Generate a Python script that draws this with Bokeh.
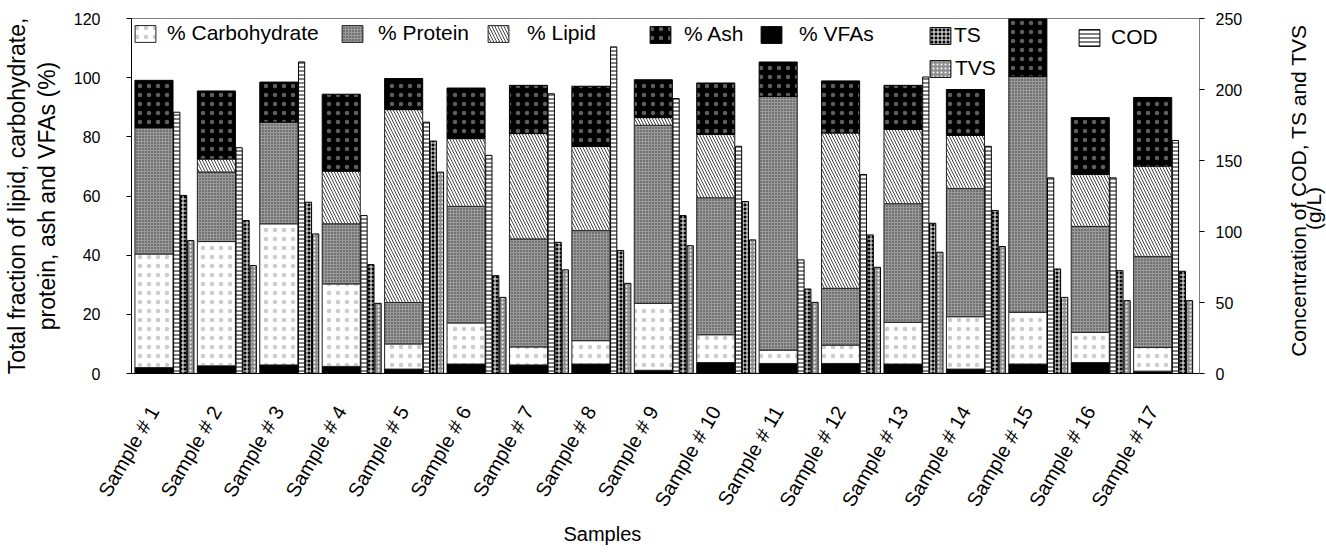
import math
from bokeh.plotting import figure
from bokeh.layouts import row
from bokeh.models import (Range1d, LinearAxis, FixedTicker, Legend, LegendItem, Title, Label,
                          ColumnDataSource)
from bokeh.embed import file_html
from bokeh.resources import INLINE

samples = [f"Sample # {i}" for i in range(1, 18)]

# Composition (%), stacked from bottom: VFAs, Carbohydrate, Protein, Lipid, Ash
vfa     = [2.0, 2.6, 2.9, 2.4, 1.5, 3.2, 2.9, 3.2, 1.1, 3.7, 3.4, 3.4, 3.2, 1.5, 3.2, 3.7, 0.8]
carb    = [38.4, 42.0, 47.7, 27.9, 8.5, 13.9, 6.1, 7.9, 22.6, 9.4, 4.5, 6.2, 14.1, 17.7, 17.5, 10.2, 8.0]
protein = [42.7, 23.5, 34.4, 20.3, 14.0, 39.4, 36.5, 37.2, 60.2, 46.3, 85.8, 19.2, 40.1, 43.3, 79.8, 35.8, 30.7]
lipid   = [0.0, 4.4, 0.0, 17.8, 65.2, 22.9, 35.6, 28.5, 2.6, 21.4, 0.0, 52.5, 25.1, 18.0, 0.0, 17.6, 30.6]
ash     = [16.0, 23.0, 13.5, 26.0, 10.5, 17.1, 16.3, 20.3, 12.8, 17.4, 11.6, 17.6, 14.9, 15.5, 20.5, 19.2, 23.2]

# Concentrations (g/L)
cod = [184, 159, 219.4, 111.2, 177, 153.6, 197, 230, 193.6, 160, 80, 140.2, 208.8, 160, 137.8, 137.8, 164.1]
ts  = [125.4, 107.7, 120.6, 76.7, 163.7, 68.9, 92.4, 86.6, 111.2, 121.1, 59.5, 97.6, 105.8, 114.8, 73.6, 72.4, 72.0]
tvs = [93.6, 76.0, 98.3, 49.4, 141.8, 53.6, 73.0, 63.5, 90.0, 94.1, 50.1, 74.8, 85.4, 89.4, 53.6, 51.3, 51.3]

left_ticks = [0, 20, 40, 60, 80, 100, 120]
right_ticks = [0, 50, 100, 150, 200, 250]

n = len(samples)
idx = list(range(n))
x_main = [round(i + 0.36, 2) for i in idx]
x_cod = [i + 0.725 for i in idx]
x_ts = [i + 0.835 for i in idx]
x_tvs = [i + 0.95 for i in idx]

FONT = "Liberation Sans"
MAIN_W = 1285
TOP, BOTTOM = 18, 179

p = figure(width=MAIN_W, height=552, x_range=Range1d(0, 17.11), y_range=Range1d(0, 120),
           output_backend="svg", toolbar_location=None,
           min_border_left=128, min_border_right=MAIN_W - 1199, min_border_top=TOP,
           min_border_bottom=BOTTOM)
p.xgrid.visible = False
p.ygrid.visible = False
p.outline_line_color = "#808080"
p.background_fill_color = "white"
p.border_fill_color = "white"

p.extra_y_ranges = {"conc": Range1d(0, 250)}

# stacked composition bars
styles = [
    ("% VFAs", vfa, dict(fill_color="black", line_color="black")),
    ("% Carbohydrate", carb, dict(fill_color="white", line_color="#222222", hatch_pattern="dot",
                                  hatch_color="#cccccc", hatch_scale=9)),
    ("% Protein", protein, dict(fill_color="#9a9a9a", line_color="#222222", hatch_pattern="dot",
                                hatch_color="#333333", hatch_scale=3)),
    ("% Lipid", lipid, dict(fill_color="white", line_color="#222222", hatch_pattern="left_diagonal_line",
                            hatch_color="#444444", hatch_scale=6, hatch_weight=1)),
    ("% Ash", ash, dict(fill_color="black", line_color="black", hatch_pattern="dot",
                        hatch_color="#5e5e5e", hatch_scale=9)),
]

renderers = {}
base = [0.0] * n
for name, vals, st in styles:
    top = [b + v for b, v in zip(base, vals)]
    src = ColumnDataSource(dict(x=x_main, bottom=base, top=top))
    r = p.vbar(x="x", bottom="bottom", top="top", width=0.61, source=src, line_width=1, **st)
    renderers[name] = r
    base = top

# concentration bars
conc_styles = [
    ("COD", x_cod, cod, dict(fill_color="white", line_color="black", hatch_pattern="horizontal_line",
                             hatch_color="black", hatch_scale=4, hatch_weight=1)),
    ("TS", x_ts, ts, dict(fill_color="black", line_color="black", hatch_pattern="cross",
                          hatch_color="white", hatch_scale=4, hatch_weight=1)),
    ("TVS", x_tvs, tvs, dict(fill_color="#8f8f8f", line_color="black", hatch_pattern="dot",
                             hatch_color="white", hatch_scale=4)),
]
for name, xs, vals, st in conc_styles:
    src = ColumnDataSource(dict(x=xs, top=vals))
    r = p.vbar(x="x", bottom=0, top="top", width=0.1, source=src, y_range_name="conc",
               line_width=1, **st)
    renderers[name] = r

# left axis
p.yaxis.ticker = FixedTicker(ticks=left_ticks)
p.yaxis.axis_line_color = "black"
p.yaxis.major_tick_line_color = "black"
p.yaxis.major_tick_out = 5
p.yaxis.major_tick_in = 0
p.yaxis.minor_tick_line_color = None
p.yaxis.major_label_standoff = 26
p.yaxis.major_label_text_font = FONT
p.yaxis.major_label_text_font_size = "16px"
p.yaxis.major_label_text_color = "black"
p.yaxis.axis_label = "Total fraction of lipid, carbohydrate,\nprotein, ash and VFAs (%)"
p.yaxis.axis_label_text_font = FONT
p.yaxis.axis_label_text_font_size = "23px"
p.yaxis.axis_label_text_font_style = "normal"
p.yaxis.axis_label_text_color = "black"
p.yaxis.axis_label_standoff = 11
p.yaxis.axis_label_text_line_height = 1.15

# right axis
rax = LinearAxis(y_range_name="conc", ticker=FixedTicker(ticks=right_ticks))
rax.axis_line_color = "#808080"
rax.major_tick_line_color = "black"
rax.major_tick_out = 5
rax.major_tick_in = 0
rax.minor_tick_line_color = None
rax.major_label_standoff = 11
rax.major_label_text_font = FONT
rax.major_label_text_font_size = "16px"
rax.major_label_text_color = "black"
p.add_layout(rax, "right")

# x axis
p.xaxis.ticker = FixedTicker(ticks=x_main)
p.xaxis.major_label_overrides = {x: s for x, s in zip(x_main, samples)}
p.xaxis.major_label_orientation = math.pi / 3
p.xaxis.major_tick_line_color = None
p.xaxis.minor_tick_line_color = None
p.xaxis.axis_line_color = "black"
p.xaxis.major_label_standoff = 28
p.xaxis.major_label_text_font = FONT
p.xaxis.major_label_text_font_size = "20px"
p.xaxis.major_label_text_color = "black"

p.add_layout(Title(text="Samples", align="left", offset=432, text_font=FONT,
                   text_font_size="20px", text_font_style="normal", text_color="black",
                   standoff=4), "below")

# legends (one per entry for exact placement)
leg_spec = [
    ("% Carbohydrate", 129, 45, 9),
    ("% Protein", 336, 45, 13),
    ("% Lipid", 482, 45, 16),
    ("% Ash", 644, 46, 11),
    ("% VFAs", 755, 46, 15),
    ("TS", 924, 47, 1),
    ("TVS", 924, 80, 2),
    ("COD", 1073, 49, 9),
]
for name, px, pbottom, so in leg_spec:
    leg = Legend(items=[LegendItem(label=name, renderers=[renderers[name]])],
                 location=(px - 128, 373 - pbottom), orientation="horizontal",
                 padding=0, margin=0, spacing=0, border_line_color=None,
                 background_fill_alpha=0, glyph_width=26, glyph_height=21,
                 label_standoff=so, label_text_font=FONT, label_text_font_size="21px",
                 label_text_color="black", label_height=21)
    p.add_layout(leg)

# right-hand title strip (text reads bottom-to-top as in the reference).
# Its frame is aligned with the main frame (rows 18..373), so data y = 552 - pixel row.
SIDE_W = 1326 - MAIN_W
p2 = figure(width=SIDE_W, height=552, x_range=Range1d(0, SIDE_W),
            y_range=Range1d(BOTTOM, 552 - TOP),
            output_backend="svg", toolbar_location=None,
            min_border_left=0, min_border_right=0, min_border_top=TOP, min_border_bottom=BOTTOM,
            x_axis_type=None, y_axis_type=None)
p2.xgrid.visible = False
p2.ygrid.visible = False
p2.outline_line_color = None
p2.background_fill_color = "white"
p2.border_fill_color = "white"
for txt, cx, cy in [("Concentration of COD, TS and TVS", 1298 - MAIN_W, 552 - 190),
                    ("(g/L)", 1313 - MAIN_W, 552 - 208)]:
    p2.add_layout(Label(x=cx, y=cy, text=txt, angle=math.pi / 2, text_align="center",
                        text_baseline="middle", text_font=FONT, text_font_size="21px",
                        text_color="black"))

layout = row(p, p2, spacing=0)
open("out.html", "w").write(file_html(layout, INLINE))
